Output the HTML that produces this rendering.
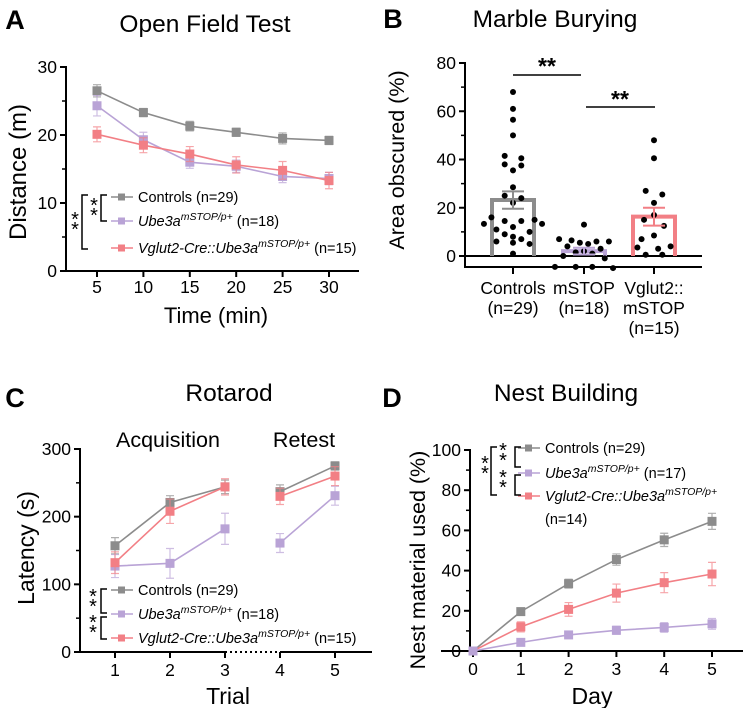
<!DOCTYPE html>
<html><head><meta charset="utf-8"><style>
html,body{margin:0;padding:0;background:#fff}
svg{display:block;font-family:"Liberation Sans",Arial,sans-serif}
</style></head><body>
<svg id="fig" width="747" height="708" viewBox="0 0 747 708" xmlns="http://www.w3.org/2000/svg"></svg>
<script>
// ---------- Panel A data ----------
const aTimes=[5,10,15,20,25,30];
const aCtrl=[26.5,23.3,21.3,20.4,19.5,19.2];
const aCtrlErr=[0.9,0.6,0.7,0.6,0.8,0.6];
const aUbe=[24.3,19.3,16.0,15.4,13.9,13.6];
const aUbeErr=[1.5,1.1,0.9,0.9,0.9,0.9];
const aVgl=[20.1,18.5,17.2,15.6,14.8,13.3];
const aVglErr=[1.1,1.1,1.1,1.2,1.3,1.2];
const aYTicks=[0,10,20,30];
// ---------- Panel B data ----------
const bCats=["Controls","mSTOP","Vglut2::"];
const bMeans=[23.2,2.0,16.3];
const bSem=[3.6,1.4,3.7];
const bCtrlDots=[[68,0],[61,0],[56.5,0],[50,0],[41.5,-1],[40.5,1],[38,-1],[37.5,1],[35.5,0],[28.5,0],[25,-1],[24,1],[22,0],[16,-2.6],[15,2.6],[14.5,-1],[14.5,1],[13.3,-3.5],[13.3,3.5],[12,0],[11,-2],[10,2],[9,-1],[8,0],[7,1],[6,-2],[5.5,0],[5,2],[1,0]];
const bStopDots=[[13,0],[7,-3],[6.5,-1.5],[6,1.5],[6,3],[5.5,-0.5],[5,0.5],[4,-2],[3,2],[2,0],[1.5,-1],[1,1],[0,-2.5],[-1,2.5],[-4.5,-3.5],[-4.5,-1],[-4.5,1],[-5,3.5]];
const bVglDots=[[48,0],[40.5,0],[27,-1],[25.5,1],[22,0],[17,0],[15,-1.2],[12.5,1.2],[8.5,0],[7,-1.5],[4,2],[3.5,-2],[3,0.5],[0.5,-1],[0.5,1]];
const bYTicks=[0,20,40,60,80];
// ---------- Panel C data ----------
const cTrials=[1,2,3,4,5];
const cCtrl=[157,221,244,237,275];
const cCtrlErr=[12,10,10,10,6];
const cUbe=[127,131,182,161,231];
const cUbeErr=[17,22,23,14,14];
const cVgl=[132,208,244,230,260];
const cVglErr=[16,18,12,12,14];
const cYTicks=[0,100,200,300];
// ---------- Panel D data ----------
const dDays=[0,1,2,3,4,5];
const dCtrl=[0,19.6,33.5,45.5,55.3,64.5];
const dCtrlErr=[0,1.5,2.2,2.8,3.3,4];
const dVgl=[0,12,20.7,28.8,34,38.3];
const dVglErr=[0,2.5,3.4,4.5,5,5.8];
const dUbe=[0,4.3,8,10.3,11.7,13.5];
const dUbeErr=[0,1.2,1.5,2,2.4,2.7];
const dYTicks=[0,20,40,60,80,100];

const GRAY="#8c8c8c",PUR="#b9a3d6",PINK="#f27f85";
const svg=document.getElementById('fig');
const NS="http://www.w3.org/2000/svg";
function el(tag,attrs,parent,name,txt){const e=document.createElementNS(NS,tag);for(const k in attrs)e.setAttribute(k,attrs[k]);


if(txt!==undefined)e.textContent=txt;(parent||svg).appendChild(e);return e;}
function lin(d0,d1,r0,r1){return v=>r0+(v-d0)*(r1-r0)/(d1-d0);}
function text(x,y,s,size,parent,name,opts){opts=opts||{};return el('text',Object.assign({x:x,y:y,'font-size':size,'text-anchor':opts.anchor||'middle',fill:'#000','font-weight':opts.bold?'bold':'normal'},opts.extra||{}),parent,name,s);}
function series(g,xs,ys,es,X,Y,color,name){
  let d="";xs.forEach((x,i)=>{d+=(i?"L":"M")+X(x)+","+Y(ys[i]);});
  el('path',{d:d,fill:'none',stroke:color,'stroke-width':1.6},g,name+'-line');
  xs.forEach((x,i)=>{const cx=X(x);
    if(es[i]>0){el('path',{d:`M${cx},${Y(ys[i]-es[i])}V${Y(ys[i]+es[i])}M${cx-4},${Y(ys[i]-es[i])}H${cx+4}M${cx-4},${Y(ys[i]+es[i])}H${cx+4}`,stroke:color,'stroke-width':1.2,fill:'none',opacity:0.7},g,name+'-errorbar');}
    el('rect',{x:cx-4.5,y:Y(ys[i])-4.5,width:9,height:9,fill:color},g,name+'-point');});
}
function legendRow(g,x,y,color,parts,name){
  const lg=el('g',{},g,name);
  el('line',{x1:x,y1:y,x2:x+22,y2:y,stroke:color,'stroke-width':1.6},lg,name+'-line');
  el('rect',{x:x+7,y:y-3.5,width:7,height:7,fill:color},lg,name+'-marker');
  const t=el('text',{x:x+27,y:y+5,'font-size':14.5,fill:'#000'},lg,name+'-label');
  parts.forEach(p=>{const ts=document.createElementNS(NS,'tspan');ts.textContent=p[0];
    if(p[1]==='i')ts.setAttribute('font-style','italic');
    if(p[1]==='s'){ts.setAttribute('font-style','italic');ts.setAttribute('font-size','10.5');ts.setAttribute('dy','-6');}
    if(p[1]==='r'){ts.setAttribute('dy','6');}
    t.appendChild(ts);});
}
const UBE=[["Ube3a",'i'],["mSTOP/p+",'s'],[" (n=18)",'r']];
function bracket(g,x,y1,y2,name){el('path',{d:`M${x+6},${y1}H${x}V${y2}H${x+6}`,fill:'none',stroke:'#000','stroke-width':1.5},g,name);}
function stars(g,x,yc,name){text(x,yc+5,"*",20,g,name+'-top');text(x,yc+15,"*",20,g,name+'-bottom');}
function yaxis(g,x,Y,ticks,minor,y0,y1,name){
  el('line',{x1:x,y1:y0,x2:x,y2:y1,stroke:'#000','stroke-width':2},g,name);
  ticks.forEach(t=>{el('line',{x1:x-6,y1:Y(t),x2:x,y2:Y(t),stroke:'#000','stroke-width':2},g,name+'-tick');
    text(x-9,Y(t)+6,String(t),17.5,g,name+'-tick-label',{anchor:'end'});});
  minor.forEach(t=>{el('line',{x1:x-4,y1:Y(t),x2:x,y2:Y(t),stroke:'#000','stroke-width':1.5},g,name+'-minor-tick');});
}

// ===== Panel A =====
(function(){
const g=el('g',{},svg,'panel-a');
const X=lin(5,30,97,329),Y=lin(0,30,271,67);
text(15,29,"A",27,g,'panel-a-letter',{bold:true});
text(205,32,"Open Field Test",24.5,g,'panel-a-title');
yaxis(g,66,Y,aYTicks,[5,15,25],66,272,'panel-a-y-axis');
el('line',{x1:65,y1:271,x2:359,y2:271,stroke:'#000','stroke-width':2},g,'panel-a-x-axis');
aTimes.forEach(t=>{el('line',{x1:X(t),y1:271,x2:X(t),y2:277,stroke:'#000','stroke-width':2},g,'panel-a-x-tick');text(X(t),293,String(t),17.5,g,'panel-a-x-tick-label');});
text(216,323,"Time (min)",22,g,'panel-a-x-title');
text(0,0,"Distance (m)",24,g,'panel-a-y-title',{extra:{transform:'translate(26,172) rotate(-90)'}});
series(g,aTimes,aCtrl,aCtrlErr,X,Y,GRAY,'controls');
series(g,aTimes,aUbe,aUbeErr,X,Y,PUR,'ube3a');
series(g,aTimes,aVgl,aVglErr,X,Y,PINK,'vglut2');
legendRow(g,111,197,GRAY,[["Controls (n=29)",'']],'legend-controls');
legendRow(g,111,221,PUR,UBE,'legend-ube3a');
legendRow(g,111,248,PINK,[["Vglut2-Cre::Ube3a",'i'],["mSTOP/p+",'s'],[" (n=15)",'r']],'legend-vglut2');
bracket(g,101,195,221,'bracket-inner');stars(g,94,207,'stars-inner');
bracket(g,82,195,249,'bracket-outer');stars(g,75,221,'stars-outer');
})();

// ===== Panel B =====
(function(){
const g=el('g',{},svg,'panel-b');
const Y=lin(0,80,256,63);
const cx=[513,584,654];
text(393,28,"B",27,g,'panel-b-letter',{bold:true});
text(555,27,"Marble Burying",24.5,g,'panel-b-title');
el('line',{x1:465,y1:62,x2:465,y2:268,stroke:'#000','stroke-width':2},g,'panel-b-y-axis');
bYTicks.forEach(t=>{el('line',{x1:459,y1:Y(t),x2:465,y2:Y(t),stroke:'#000','stroke-width':2},g,'panel-b-y-tick');text(456,Y(t)+6,String(t),17.5,g,'panel-b-y-tick-label',{anchor:'end'});});
[10,30,50,70].forEach(t=>{el('line',{x1:461,y1:Y(t),x2:465,y2:Y(t),stroke:'#000','stroke-width':1.5},g,'panel-b-minor-tick');});
el('line',{x1:465,y1:Y(0),x2:702,y2:Y(0),stroke:'#000','stroke-width':2},g,'panel-b-zero-line');
el('line',{x1:464,y1:267,x2:702,y2:267,stroke:'#000','stroke-width':2},g,'panel-b-x-axis');
text(0,0,"Area obscured (%)",21.5,g,'panel-b-y-title',{extra:{transform:'translate(404,160) rotate(-90)'}});
const cols=[GRAY,PUR,PINK],names=['controls','mstop','vglut2'];
const dots=[bCtrlDots,bStopDots,bVglDots];
bMeans.forEach((m,i)=>{
  const top=Y(m),bot=Y(0);
  el('path',{d:`M${cx[i]-21},${bot}V${top}H${cx[i]+21}V${bot}`,fill:'none',stroke:cols[i],'stroke-width':4},g,'bar-'+names[i]);
  dots[i].forEach(d=>{el('circle',{cx:cx[i]+d[1]*8.3,cy:Y(d[0]),r:3,fill:'#000'},g,'dot-'+names[i]);});
  el('path',{d:`M${cx[i]},${Y(m-bSem[i])}V${Y(m+bSem[i])}M${cx[i]-11},${Y(m-bSem[i])}H${cx[i]+11}M${cx[i]-11},${Y(m+bSem[i])}H${cx[i]+11}`,stroke:cols[i],'stroke-width':2,fill:'none'},g,'errorbar-'+names[i]);
  el('line',{x1:cx[i],y1:267,x2:cx[i],y2:274,stroke:'#000','stroke-width':2},g,'panel-b-x-tick');
});
text(513,294,"Controls",17.5,g,'label-controls');text(513,314,"(n=29)",17.5,g,'label-controls-n');
text(584,294,"mSTOP",17.5,g,'label-mstop');text(584,314,"(n=18)",17.5,g,'label-mstop-n');
text(654,294,"Vglut2::",17.5,g,'label-vglut2');text(654,314,"mSTOP",17.5,g,'label-vglut2-2');text(654,334,"(n=15)",17.5,g,'label-vglut2-n');
el('line',{x1:513,y1:75,x2:581,y2:75,stroke:'#000','stroke-width':1.5},g,'sig-line-1');
text(547,74,"**",23,g,'sig-stars-1',{bold:true});
el('line',{x1:586,y1:107,x2:655,y2:107,stroke:'#000','stroke-width':1.5},g,'sig-line-2');
text(620,107,"**",23,g,'sig-stars-2',{bold:true});
})();

// ===== Panel C =====
(function(){
const g=el('g',{},svg,'panel-c');
const X=lin(1,5,115,335),Y=lin(0,300,652,449);
text(15,407,"C",27,g,'panel-c-letter',{bold:true});
text(229,401,"Rotarod",24.5,g,'panel-c-title');
text(168,447,"Acquisition",21.5,g,'label-acquisition');
text(304,447,"Retest",21.5,g,'label-retest');
yaxis(g,80,Y,cYTicks,[50,150,250],448,653,'panel-c-y-axis');
el('line',{x1:79,y1:652,x2:X(3),y2:652,stroke:'#000','stroke-width':2},g,'panel-c-x-axis-1');
el('line',{x1:X(3),y1:652,x2:X(4),y2:652,stroke:'#000','stroke-width':2,'stroke-dasharray':'2,3'},g,'panel-c-x-axis-break');
el('line',{x1:X(4),y1:652,x2:372,y2:652,stroke:'#000','stroke-width':2},g,'panel-c-x-axis-2');
cTrials.forEach(t=>{el('line',{x1:X(t),y1:652,x2:X(t),y2:658,stroke:'#000','stroke-width':2},g,'panel-c-x-tick');text(X(t),676,String(t),17.5,g,'panel-c-x-tick-label');});
text(228,704,"Trial",23,g,'panel-c-x-title');
text(0,0,"Latency (s)",23,g,'panel-c-y-title',{extra:{transform:'translate(34,548) rotate(-90)'}});
[['controls',cCtrl,cCtrlErr,GRAY],['ube3a',cUbe,cUbeErr,PUR],['vglut2',cVgl,cVglErr,PINK]].forEach(s=>{
  series(g,cTrials.slice(0,3),s[1].slice(0,3),s[2].slice(0,3),X,Y,s[3],s[0]+'-acq');
  series(g,cTrials.slice(3),s[1].slice(3),s[2].slice(3),X,Y,s[3],s[0]+'-retest');});
legendRow(g,111,590,GRAY,[["Controls (n=29)",'']],'legend-c-controls');
legendRow(g,111,614,PUR,UBE,'legend-c-ube3a');
legendRow(g,111,638,PINK,[["Vglut2-Cre::Ube3a",'i'],["mSTOP/p+",'s'],[" (n=15)",'r']],'legend-c-vglut2');
bracket(g,101,589,613,'bracket-c-1');stars(g,93,598,'stars-c-1');
bracket(g,101,617,639,'bracket-c-2');stars(g,93,624,'stars-c-2');
})();

// ===== Panel D =====
(function(){
const g=el('g',{},svg,'panel-d');
const X=lin(0,5,473,712),Y=lin(0,100,651,450);
text(392,407,"D",27,g,'panel-d-letter',{bold:true});
text(566,401,"Nest Building",24.5,g,'panel-d-title');
yaxis(g,470,Y,dYTicks,[10,30,50,70,90],449,651,'panel-d-y-axis');
el('line',{x1:441,y1:651,x2:743,y2:651,stroke:'#000','stroke-width':2},g,'panel-d-x-axis');
dDays.forEach(t=>{el('line',{x1:X(t),y1:651,x2:X(t),y2:657,stroke:'#000','stroke-width':2},g,'panel-d-x-tick');text(X(t),675,String(t),17.5,g,'panel-d-x-tick-label');});
text(592,704,"Day",23,g,'panel-d-x-title');
text(0,0,"Nest material used (%)",21.5,g,'panel-d-y-title',{extra:{transform:'translate(425,560) rotate(-90)'}});
series(g,dDays,dCtrl,dCtrlErr,X,Y,GRAY,'d-controls');
series(g,dDays,dVgl,dVglErr,X,Y,PINK,'d-vglut2');
series(g,dDays,dUbe,dUbeErr,X,Y,PUR,'d-ube3a');
legendRow(g,518,448,GRAY,[["Controls (n=29)",'']],'legend-d-controls');
legendRow(g,518,473,PUR,[["Ube3a",'i'],["mSTOP/p+",'s'],[" (n=17)",'r']],'legend-d-ube3a');
legendRow(g,518,496,PINK,[["Vglut2-Cre::Ube3a",'i'],["mSTOP/p+",'s']],'legend-d-vglut2');
text(545,524,"(n=14)",14.5,g,'legend-d-vglut2-n',{anchor:'start'});
bracket(g,515,447,467,'bracket-d-1');stars(g,503,452,'stars-d-1');
bracket(g,515,475,495,'bracket-d-2');stars(g,503,479,'stars-d-2');
bracket(g,491,447,495,'bracket-d-outer');stars(g,485,465,'stars-d-outer');
})();
</script>
</body></html>
